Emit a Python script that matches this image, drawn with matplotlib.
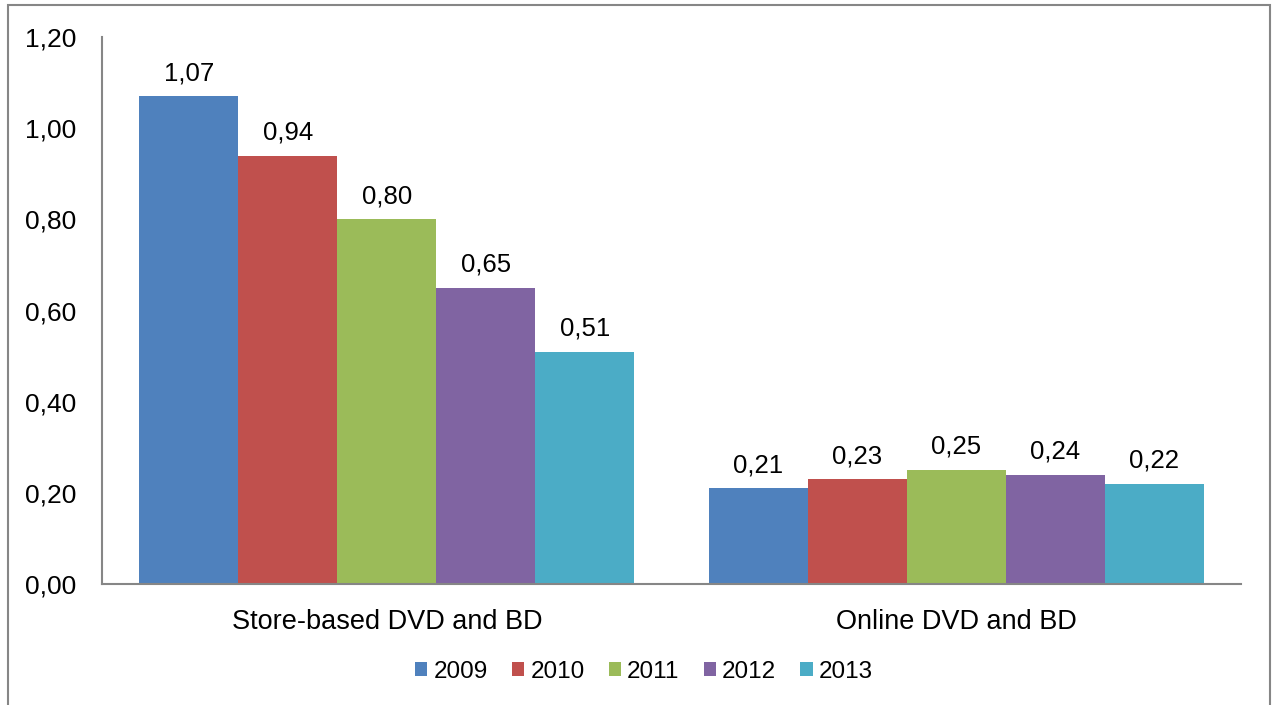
import numpy as np
import matplotlib.pyplot as plt
from matplotlib.patches import Rectangle

# data
categories = ['Store-based DVD and BD', 'Online DVD and BD']
years = ['2009', '2010', '2011', '2012', '2013']
values = [
    [1.07, 0.21],
    [0.94, 0.23],
    [0.80, 0.25],
    [0.65, 0.24],
    [0.51, 0.22],
]
colors = ['#4F81BD', '#C0504D', '#9BBB59', '#8064A2', '#4BACC6']
yticks = [0.0, 0.2, 0.4, 0.6, 0.8, 1.0, 1.2]

plt.rcParams['font.family'] = ['Liberation Sans', 'DejaVu Sans']

fig = plt.figure(figsize=(12.77, 7.05), dpi=100)
ax = fig.add_axes([102/1277, 1 - 584/705, (1241 - 102)/1277, (584 - 37)/705])

x = np.arange(len(categories))
w = 0.1738
for i, yr in enumerate(years):
    pos = x + (i - 2) * w
    bars = ax.bar(pos, values[i], w, color=colors[i], label=yr)
    for b, v in zip(bars, values[i]):
        ax.annotate(('%.2f' % v).replace('.', ','),
                    (b.get_x() + b.get_width()/2, v),
                    xytext=(0, 8), textcoords='offset points',
                    ha='center', va='bottom', fontsize=18.5)

ax.set_xlim(-0.5, 1.5)
ax.set_ylim(0, 1.2)
ax.set_yticks(yticks)
ax.set_yticklabels([('%.2f' % t).replace('.', ',') for t in yticks])
ax.set_xticks(x)
ax.set_xticklabels(categories)
ax.tick_params(axis='both', length=0)
ax.tick_params(axis='y', pad=18.5, labelsize=19)
ax.tick_params(axis='x', pad=18, labelsize=19.5)

for s in ['top', 'right']:
    ax.spines[s].set_visible(False)
for s in ['left', 'bottom']:
    ax.spines[s].set_color('#868686')
    ax.spines[s].set_linewidth(1.5)

ax.legend(loc='center', bbox_to_anchor=(644/1277, 1 - 672/705),
          bbox_transform=fig.transFigure, ncol=5, frameon=False,
          fontsize=17.5, handlelength=0.5, handleheight=0.5,
          handletextpad=0.25, columnspacing=1.0)

# outer border of chart area
fig.patches.append(Rectangle((8/1277, -0.05), (1270 - 8)/1277, 1 - 5/705 + 0.05,
                             transform=fig.transFigure, fill=False,
                             edgecolor='#868686', linewidth=1.5))

fig.savefig('out.png', dpi=100)
